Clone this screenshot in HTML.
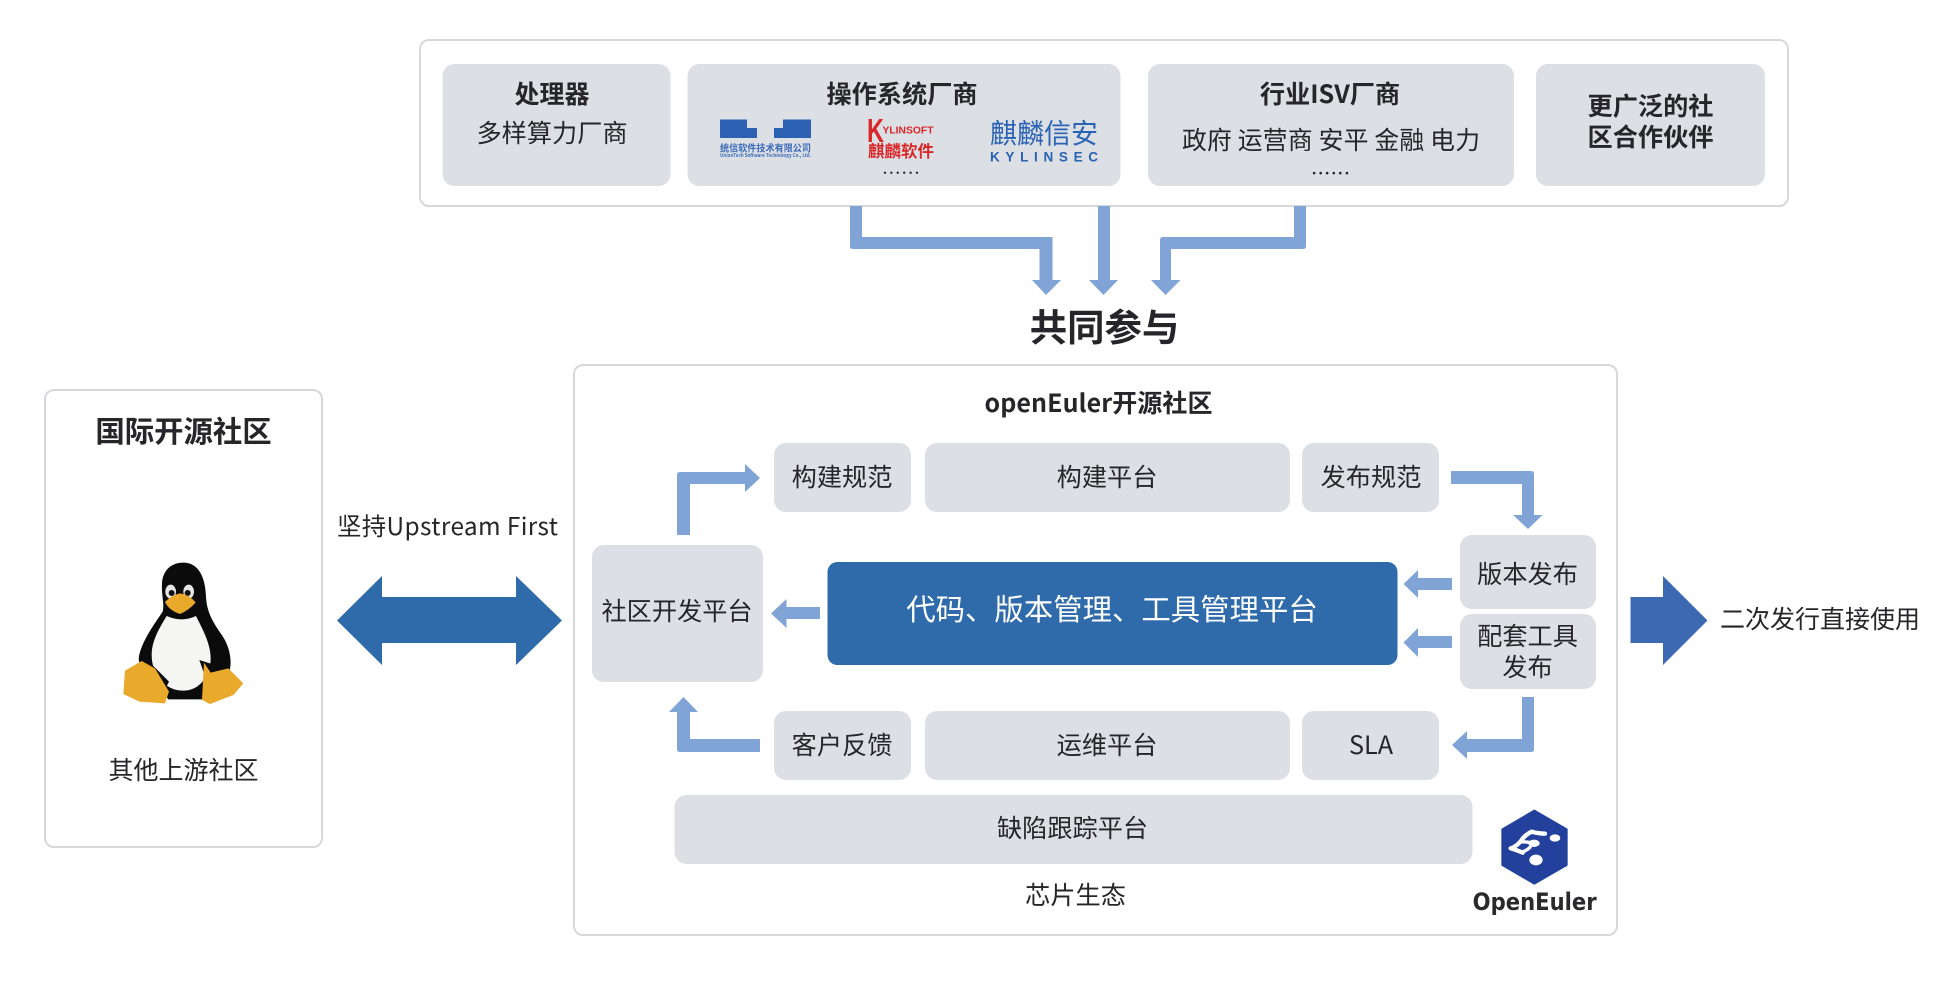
<!DOCTYPE html>
<html lang="zh-CN">
<head>
<meta charset="utf-8">
<title>openEuler开源社区</title>
<style>
html,body{margin:0;padding:0;background:#fff;width:1958px;height:992px;overflow:hidden}
svg{display:block;filter:blur(.35px)}
text{font-family:"Noto Sans CJK SC","Liberation Sans",sans-serif;fill:#26262a;text-anchor:middle}
.b{font-weight:700}
.f{fill:#dcdfe4}
.o{fill:#fff;stroke:#d6d8de;stroke-width:2}
.l{fill:#80a4d6}
</style>
</head>
<body>
<svg width="1958" height="992" viewBox="0 0 1958 992" xmlns="http://www.w3.org/2000/svg">
<rect width="1958" height="992" fill="#fff"/>

<!-- top container -->
<rect class="o" x="420" y="40" width="1368" height="166" rx="9"/>
<rect class="f" x="442.500" y="64" width="228" height="122" rx="12"/>
<rect class="f" x="687.500" y="64" width="433" height="122" rx="12"/>
<rect class="f" x="1148" y="64" width="366" height="122" rx="12"/>
<rect class="f" x="1536" y="64" width="229" height="122" rx="12"/>

<text class="b" x="552" y="103" font-size="25">处理器</text>
<text x="552" y="142" font-size="25.200">多样算力厂商</text>
<text class="b" x="902" y="103" font-size="25.200">操作系统厂商</text>
<text class="b" x="1330" y="103" font-size="25.200">行业ISV厂商</text>
<text x="1331" y="149" font-size="24.800" textLength="298" lengthAdjust="spacing">政府 运营商 安平 金融 电力</text>
<text x="1331" y="174" font-size="20" letter-spacing="1">......</text>
<text class="b" x="1650.500" y="115" font-size="25.200">更广泛的社</text>
<text class="b" x="1650.500" y="146" font-size="25.200">区合作伙伴</text>

<!-- logos -->
<path d="M720 119.500H747V128H757V138H720Z" fill="#2b60b3"/>
<path d="M783 119.500H811V138H774V128H783Z" fill="#2b60b3"/>
<text class="b" x="765.500" y="151.500" font-size="9.500" style="fill:#3a6ab8" textLength="91" lengthAdjust="spacingAndGlyphs">统信软件技术有限公司</text>
<text class="b" x="765.500" y="157" font-size="4.800" style="fill:#3a6ab8" textLength="91" lengthAdjust="spacingAndGlyphs">UnionTech Software Technology Co., Ltd.</text>
<text class="b" x="875.500" y="142" font-size="33" style="fill:#d9272a;font-family:'Liberation Sans',sans-serif" textLength="17" lengthAdjust="spacingAndGlyphs">K</text>
<text class="b" x="908" y="133.500" font-size="10" style="fill:#d9272a;font-family:'Liberation Sans',sans-serif" textLength="51" lengthAdjust="spacingAndGlyphs">YLINSOFT</text>
<text class="b" x="901" y="157" font-size="16.500" style="fill:#d9272a">麒麟软件</text>
<text x="901" y="174" font-size="18" style="fill:#333" textLength="37" lengthAdjust="spacing">......</text>
<text x="1044" y="143" font-size="27.500" style="fill:#2a62b4" textLength="108" lengthAdjust="spacingAndGlyphs">麒麟信安</text>
<text class="b" x="1044" y="161.500" font-size="13.500" style="fill:#2a62b4;font-family:'Liberation Sans',sans-serif" textLength="108" lengthAdjust="spacing">KYLINSEC</text>

<!-- top arrows -->
<path class="l" d="M850 206H862V237H1052.500V280H1061L1046 295L1032 280H1039.500V249H853Q850 249 850 246Z"/>
<path class="l" d="M1098 206H1110V280H1118L1103.500 295L1089 280H1098Z"/>
<path class="l" d="M1294 206H1306V246Q1306 249 1303 249H1171V280H1180.500L1165.500 295L1151 280H1160V240Q1160 237 1163 237H1294Z"/>

<text class="b" x="1104.500" y="341" font-size="37.400">共同参与</text>

<!-- left box -->
<rect class="o" x="45" y="390" width="277" height="457" rx="9"/>
<text class="b" x="183.500" y="442" font-size="29.400">国际开源社区</text>
<text x="183.500" y="779" font-size="25">其他上游社区</text>

<!-- penguin -->
<g transform="translate(100 540) scale(.3333)">
<path d="M250 68C210 68 188 95 186 130C184 170 194 190 188 215C165 250 135 290 122 330C112 358 116 372 128 375L205 478L310 478L388 395C398 360 388 315 362 280C338 245 320 215 318 170C316 110 295 68 250 68Z" fill="#0b0b0c"/>
<path d="M200 228C180 262 155 300 155 345C155 405 195 452 250 452C300 452 332 405 332 355C332 310 305 262 288 228Q245 248 200 228Z" fill="#f5f5f3"/>
<path d="M150 368L207 425L197 445L135 395Z" fill="#0b0b0c"/>
<path d="M298 360L345 375L350 410L312 400Z" fill="#0b0b0c"/>
<ellipse cx="212" cy="155" rx="16" ry="21" fill="#e6e6e6"/>
<ellipse cx="266" cy="155" rx="16" ry="21" fill="#e6e6e6"/>
<circle cx="215" cy="159" r="9" fill="#111"/>
<circle cx="263" cy="159" r="9" fill="#111"/>
<path d="M195 186Q215 165 240 160Q270 165 287 188Q265 212 240 222Q208 212 195 186Z" fill="#e9a92a"/>
<path d="M75 392L125 363L165 385L207 455L195 490L118 485L70 462Z" fill="#e9a92a"/>
<path d="M312 368L332 398L385 385L430 430L400 465L330 492L306 480Z" fill="#e9a92a"/>
</g>

<!-- double arrow -->
<text x="447.500" y="535" font-size="24.400" textLength="221" lengthAdjust="spacing">坚持Upstream First</text>
<path d="M337 620.500L382 576V597H516V576L562 620.500L516 665V643H382V665Z" fill="#2f6aab"/>

<!-- main box -->
<rect class="o" x="574" y="365" width="1043" height="570" rx="9"/>
<text class="b" x="1098.500" y="412" font-size="25" textLength="228" lengthAdjust="spacing">openEuler开源社区</text>

<rect class="f" x="774" y="443" width="137" height="69" rx="12"/>
<rect class="f" x="925" y="443" width="365" height="69" rx="12"/>
<rect class="f" x="1302" y="443" width="137" height="69" rx="12"/>
<rect class="f" x="592" y="545" width="171" height="137" rx="12"/>
<rect x="827.500" y="562" width="570" height="103" rx="10" fill="#2f6aab"/>
<rect class="f" x="1460" y="535" width="136" height="74" rx="12"/>
<rect class="f" x="1460" y="614" width="136" height="75" rx="12"/>
<rect class="f" x="774" y="711" width="137" height="69" rx="12"/>
<rect class="f" x="925" y="711" width="365" height="69" rx="12"/>
<rect class="f" x="1302" y="711" width="137" height="69" rx="12"/>
<rect class="f" x="674.500" y="795" width="798" height="69" rx="12"/>

<text x="842" y="486" font-size="25.200">构建规范</text>
<text x="1107" y="486" font-size="25.200">构建平台</text>
<text x="1371" y="486" font-size="25.200">发布规范</text>
<text x="677" y="620" font-size="25.200">社区开发平台</text>
<text x="1112" y="620" font-size="29.400" style="fill:#fff">代码、版本管理、工具管理平台</text>
<text x="1527.500" y="583" font-size="25.200">版本发布</text>
<text x="1527.500" y="645" font-size="25.200">配套工具</text>
<text x="1527.500" y="676" font-size="25.200">发布</text>
<text x="842" y="754" font-size="25.200">客户反馈</text>
<text x="1107" y="754" font-size="25.200">运维平台</text>
<text x="1371" y="754" font-size="25.200">SLA</text>
<text x="1072.500" y="837" font-size="25.200">缺陷跟踪平台</text>
<text x="1075.500" y="904" font-size="25.200">芯片生态</text>

<!-- inner arrows -->
<path class="l" d="M677 535V475Q677 472 680 472H745V464L760 478L745 492V484H690V535Z"/>
<path class="l" d="M820 607V619H786.500V628L771 613.500L786.500 599V607Z"/>
<path class="l" d="M1451 471H1531Q1534 471 1534 474V515H1542.500L1528 529L1513 515H1522V484H1451Z"/>
<path class="l" d="M1452 578V590H1418V598L1403.500 584L1418 570V578Z"/>
<path class="l" d="M1452 636V648H1418V657L1403.500 642.500L1418 628V636Z"/>
<path class="l" d="M1522 697H1534V749Q1534 752 1531 752H1467V759L1452 745L1467 731V739H1522Z"/>
<path class="l" d="M760 739V752H680Q677 752 677 749V712H669L683.500 697L698 712H690V739Z"/>

<!-- right arrow -->
<path d="M1630.500 597H1663V576L1707.500 620.500L1663 665V643H1630.500Z" fill="#3c69b2"/>
<text x="1820" y="628" font-size="25">二次发行直接使用</text>

<!-- openEuler logo -->
<g transform="translate(1450 790) scale(.3333)">
<path d="M253 62L350 118V225L253 281L157 225V118Z" fill="#22409c" stroke="#22409c" stroke-width="6" stroke-linejoin="round"/>
<ellipse cx="258" cy="210" rx="20" ry="16" fill="#fff"/>
<ellipse cx="315" cy="144" rx="16" ry="11" fill="#fff"/>
<ellipse cx="252" cy="160" rx="17" ry="11" fill="#fff"/>
<path d="M285 131Q262 130 245 125Q225 135 215 150Q200 170 182 175Q205 182 218 188" fill="none" stroke="#fff" stroke-width="13" stroke-linecap="round" stroke-linejoin="round"/>
<path d="M210 155Q230 155 250 160M218 186Q232 180 240 172" fill="none" stroke="#fff" stroke-width="10" stroke-linecap="round"/>
<text class="b" x="254" y="360" font-size="72" style="fill:#2a2a2e;font-family:'DejaVu Sans',sans-serif" textLength="372" lengthAdjust="spacingAndGlyphs">OpenEuler</text>
</g>
</svg>
</body>
</html>
